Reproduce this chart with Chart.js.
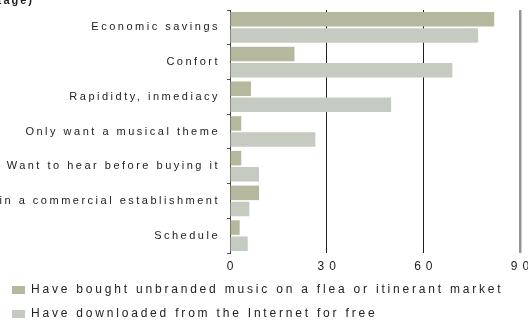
<!DOCTYPE html>
<html>
<head>
<meta charset="utf-8">
<script src="https://cdn.jsdelivr.net/npm/chart.js@4.4.1/dist/chart.umd.min.js"></script>
<style>
  html, body { margin: 0; padding: 0; background: #fff; }
  #wrap { width: 528px; height: 326px; position: relative; overflow: hidden; }
</style>
</head>
<body>
<div id="wrap"><canvas id="chart"></canvas></div>
<script>
// reasons, in the order shown top to bottom
const categories = [
  'Economic savings',
  'Confort',
  'Rapididty, inmediacy',
  'Only want a musical theme',
  'Want to hear before buying it',
  'Not available in a commercial establishment',
  'Schedule'
];
const seriesNames = [
  'Have bought unbranded music on a flea or itinerant market',
  'Have downloaded from the Internet for free'
];
const fleaMarket   = [82, 20, 6.5, 3.5, 3.5, 9, 3];
const internetFree = [77, 69, 50, 26.5, 9, 6, 5.5];
const xTicks = [0, 30, 60, 90];
const titleNote = '(percentage)';

const FONT = "'Liberation Sans', Arial, sans-serif";
Chart.defaults.color = '#222';
Chart.defaults.font.family = FONT;

// the source text is drawn with very loose tracking
function tracked(fn, ls) {
  return function (...args) {
    const ctx = this.ctx;
    const old = ctx.letterSpacing;
    ctx.letterSpacing = ls;
    fn.apply(this, args);
    ctx.letterSpacing = old;
  };
}

const looseText = {
  id: 'looseText',
  beforeLayout(chart) { chart.ctx.letterSpacing = '2.8px'; },
  beforeDraw(chart) { chart.ctx.letterSpacing = '2.8px'; },
  afterDraw(chart) {
    const ctx = chart.ctx;
    ctx.save();
    ctx.letterSpacing = '2px';
    ctx.font = 'bold 11px ' + FONT;
    ctx.fillStyle = '#222';
    ctx.textAlign = 'right';
    ctx.textBaseline = 'alphabetic';
    ctx.fillText(titleNote, 34, 4);
    ctx.restore();
  }
};

new Chart(document.getElementById('chart'), {
  type: 'bar',
  data: {
    labels: categories,
    datasets: [
      { label: seriesNames[0], data: fleaMarket, backgroundColor: '#b5b89c' },
      { label: seriesNames[1], data: internetFree, backgroundColor: '#c6cbc2' }
    ]
  },
  options: {
    indexAxis: 'y',
    responsive: true,
    maintainAspectRatio: false,
    animation: false,
    categoryPercentage: 0.93,
    barPercentage: 0.9,
    layout: { padding: { top: 10, right: 8, left: 0, bottom: -4 } },
    scales: {
      x: {
        min: 0,
        max: 90,
        afterBuildTicks: (s) => { s.ticks = xTicks.map(v => ({ value: v })); },
        afterFit: (s) => {
          s.paddingLeft = 0; s.paddingRight = 0;
          s.height = Math.max(0, s.height - 9);
          if (!s._tracked) { s.drawLabels = tracked(s.drawLabels, '5px'); s._tracked = true; }
        },
        border: { display: false },
        grid: {
          drawTicks: false,
          color: (c) => c.tick && c.tick.value === 90 ? '#949494' : '#1e1e1e',
          lineWidth: (c) => c.tick && c.tick.value === 90 ? 2.5 : 1
        },
        ticks: { font: { size: 12, lineHeight: 1 }, color: '#222', padding: 8, labelOffset: 2.5 }
      },
      y: {
        afterFit: (s) => {
          s.width = 230;
          s.paddingTop = 0; s.paddingBottom = 0;
          if (!s._tracked) { s.drawLabels = tracked(s.drawLabels, '2.5px'); s._tracked = true; }
        },
        border: { display: true, color: '#444', width: 1 },
        grid: { drawOnChartArea: false, offset: true, tickLength: 3, color: '#555' },
        ticks: { font: { size: 11 }, color: '#222', padding: 7, autoSkip: false }
      }
    },
    plugins: {
      legend: {
        position: 'bottom',
        align: 'start',
        labels: { boxWidth: 13, boxHeight: 8, padding: 12, font: { size: 12 }, color: '#222' }
      },
      tooltip: { enabled: false }
    }
  },
  plugins: [looseText]
});
</script>
</body>
</html>
